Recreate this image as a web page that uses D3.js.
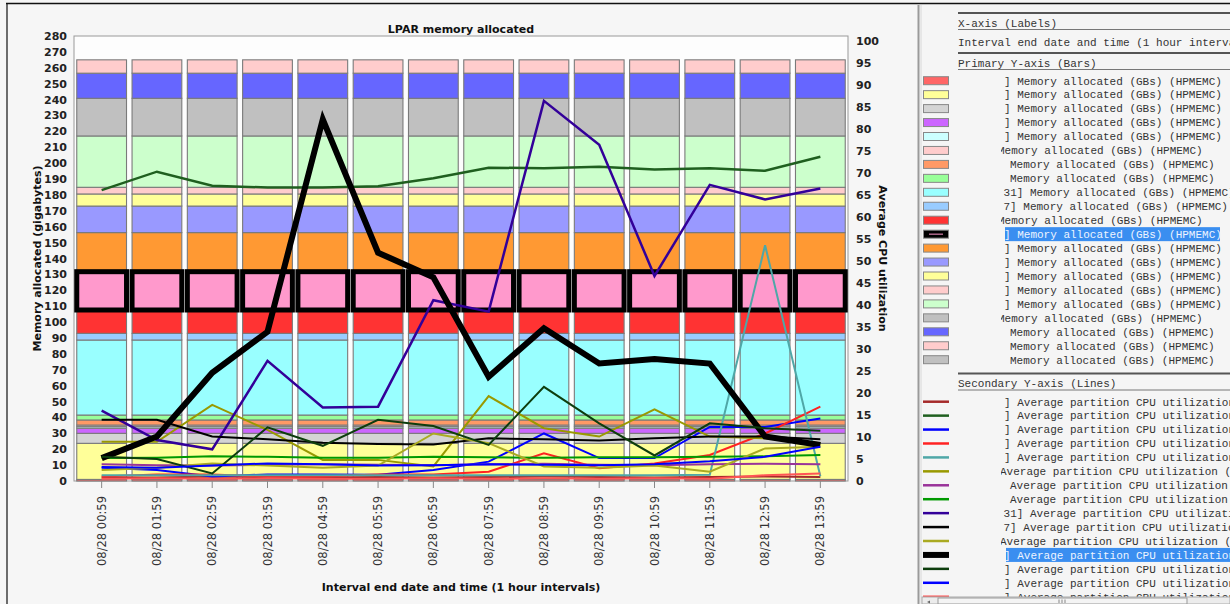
<!DOCTYPE html>
<html>
<head>
<meta charset="utf-8">
<script src="https://cdn.jsdelivr.net/npm/d3@7"></script>
<style>
body { margin: 0; background: #f6f6f6; }
svg { display: block; font-family: "DejaVu Sans", Verdana, sans-serif; }
.mono { font-family: "Liberation Mono", "Courier New", monospace; font-size: 11px; fill: #333; }
</style>
</head>
<body>
<svg id="chart" width="1230" height="604"></svg>
<script>
// x categories
const times = ["08/28 00:59", "08/28 01:59", "08/28 02:59", "08/28 03:59", "08/28 04:59",
    "08/28 05:59", "08/28 06:59", "08/28 07:59", "08/28 08:59", "08/28 09:59",
    "08/28 10:59", "08/28 11:59", "08/28 12:59", "08/28 13:59"]

// memory per LPAR (GB), same every hour, bottom of the stack first
const memValues = [1, 22.7, 6.3, 3.2, 1, 1, 3.2, 3.1, 47.2, 4.2, 14.7, 24.1, 24.6, 16.7, 7.6, 4.2, 32.3, 23.7, 15.8, 8.4, 0]
const memColors = ["#ff6666", "#ffff99", "#d4d4d4", "#cc66ff", "#ccffff", "#ffcccc", "#ff9966", "#99ff99",
    "#99ffff", "#99ccff", "#ff3333", "#ff99cc", "#ff9933", "#9999ff", "#ffff99", "#ffcccc",
    "#ccffcc", "#c0c0c0", "#6666ff", "#ffcccc", "#c0c0c0"]
const memLabels = [
    "] Memory allocated (GBs) (HPMEMC)", "] Memory allocated (GBs) (HPMEMC)", "] Memory allocated (GBs) (HPMEMC)",
    "] Memory allocated (GBs) (HPMEMC)", "] Memory allocated (GBs) (HPMEMC)", "Memory allocated (GBs) (HPMEMC)",
    "Memory allocated (GBs) (HPMEMC)", "Memory allocated (GBs) (HPMEMC)", "31] Memory allocated (GBs) (HPMEMC)",
    "7] Memory allocated (GBs) (HPMEMC)", "Memory allocated (GBs) (HPMEMC)", "] Memory allocated (GBs) (HPMEMC)",
    "] Memory allocated (GBs) (HPMEMC)", "] Memory allocated (GBs) (HPMEMC)", "] Memory allocated (GBs) (HPMEMC)",
    "] Memory allocated (GBs) (HPMEMC)", "] Memory allocated (GBs) (HPMEMC)", "Memory allocated (GBs) (HPMEMC)",
    "Memory allocated (GBs) (HPMEMC)", "Memory allocated (GBs) (HPMEMC)", "Memory allocated (GBs) (HPMEMC)"]

// average partition CPU utilization (%), one array per LPAR
const cpu01 = [0.8, 0.8, 1.0, 0.9, 0.8, 0.9, 0.8, 0.9, 1.0, 0.9, 0.8, 0.9, 1.0, 0.9]
const cpu02 = [66.1, 70.3, 67.1, 66.7, 66.7, 67.0, 68.8, 71.2, 71.1, 71.4, 70.8, 71.1, 70.5, 73.7]
const cpu03 = [3.0, 2.5, 1.0, 1.5, 1.5, 1.4, 2.5, 4.4, 10.8, 5.2, 5.2, 12.3, 12.3, 14.2]
const cpu04 = [1.0, 1.5, 1.5, 1.0, 1.0, 1.5, 1.5, 2.1, 6.3, 2.9, 4.0, 5.9, 10.8, 16.9]
const cpu05 = [1.3, 1.3, 1.3, 1.3, 1.3, 1.3, 1.3, 1.3, 1.3, 1.3, 1.3, 1.4, 53.6, 1.1]
const cpu06 = [8.9, 8.9, 17.3, 11.6, 4.8, 4.8, 3.3, 19.3, 12.0, 10.1, 16.3, 10.1, 9.7, 8.6]
const cpu07 = [3.8, 3.6, 3.5, 3.7, 3.8, 3.7, 3.6, 3.8, 3.9, 3.7, 3.6, 3.8, 3.9, 3.8]
const cpu08 = [5.2, 5.3, 5.6, 5.5, 5.3, 5.3, 5.5, 5.4, 5.3, 5.4, 5.4, 5.5, 5.6, 5.9]
const cpu09 = [16.0, 9.3, 7.2, 27.3, 16.7, 16.9, 41.1, 38.5, 86.4, 76.4, 46.6, 67.3, 64.0, 66.5]
const cpu10 = [13.9, 13.9, 10.1, 9.5, 8.7, 8.4, 8.3, 9.7, 9.5, 9.2, 9.7, 10.1, 10.1, 9.5]
const cpu11 = [2.5, 3.0, 4.0, 3.5, 3.0, 3.5, 10.8, 8.6, 3.3, 3.0, 3.5, 2.1, 7.4, 7.8]
const cpu12 = [5.2, 10.1, 24.6, 33.9, 82.2, 51.9, 46.3, 23.7, 34.7, 26.7, 27.7, 26.7, 10.1, 8.2]
const cpu13 = [5.5, 5.0, 1.7, 12.2, 8.0, 13.9, 12.5, 8.2, 21.4, 13.1, 5.8, 13.1, 12.0, 11.4]
const cpu14 = [3.2, 3.0, 3.5, 4.0, 3.8, 3.5, 3.6, 3.8, 3.7, 3.6, 3.8, 4.5, 5.5, 7.8]
const cpu15 = [0.5, 0.6, 0.5, 0.6, 0.5, 0.5, 0.6, 0.5, 0.6, 0.5, 0.6, 0.5, 1.3, 1.7]
const cpuColors = ["#a52a2a", "#1f5f1f", "#0000ff", "#ff2222", "#4fa7a7", "#999900", "#993399", "#009900",
    "#330099", "#000000", "#aaaa22", "#000000", "#0d3d0d", "#0000ff", "#ff5555"]
const cpuLabels = [
    "] Average partition CPU utilization (AVGCPU)", "] Average partition CPU utilization (AVGCPU)",
    "] Average partition CPU utilization (AVGCPU)", "] Average partition CPU utilization (AVGCPU)",
    "] Average partition CPU utilization (AVGCPU)", "Average partition CPU utilization (AVGCPU)",
    "Average partition CPU utilization (AVGCPU)", "Average partition CPU utilization (AVGCPU)",
    "31] Average partition CPU utilization (AVGCPU)", "7] Average partition CPU utilization (AVGCPU)",
    "Average partition CPU utilization (AVGCPU)", "] Average partition CPU utilization (AVGCPU)",
    "] Average partition CPU utilization (AVGCPU)", "] Average partition CPU utilization (AVGCPU)",
    "] Average partition CPU utilization (AVGCPU)"]

const cpuLines = [cpu01, cpu02, cpu03, cpu04, cpu05, cpu06, cpu07, cpu08, cpu09, cpu10, cpu11, cpu12, cpu13, cpu14, cpu15]
const selected = 11  // highlighted LPAR in the legend

let drawChart = () => {
    var width = 1230
    var height = 604
    var plot = { left: 74, right: 848, top: 36, bottom: 481 }

    var svg = d3.select("#chart")

    svg.append("rect").attr("width", width).attr("height", height).attr("fill", "#f6f6f6")
    // window frame
    svg.append("line").attr("x1", 6).attr("x2", width).attr("y1", 3.5).attr("y2", 3.5)
        .attr("stroke", "#111").attr("stroke-width", 1.5)
    svg.append("line").attr("x1", 7).attr("x2", 7).attr("y1", 3).attr("y2", height)
        .attr("stroke", "#111").attr("stroke-width", 1.2)

    var x = d3.scaleBand().domain(times).range([plot.left, plot.right]).paddingInner(0.1).paddingOuter(0.05)
    var yMem = d3.scaleLinear().domain([0, 280]).range([plot.bottom, plot.top])
    var yCpu = d3.scaleLinear().domain([0, 100]).range([plot.bottom, 41])

    svg.append("rect")
        .attr("x", plot.left).attr("y", plot.top)
        .attr("width", plot.right - plot.left).attr("height", plot.bottom - plot.top)
        .attr("fill", "#fdfdfd").attr("stroke", "#999")

    // stacked bars
    var table = times.map((t) => {
        var row = { time: t }
        memValues.forEach((v, i) => { row[i] = v })
        return row
    })
    var stacked = d3.stack().keys(d3.range(memValues.length))(table)

    var order = stacked.filter((s) => s.key !== selected).concat(stacked.filter((s) => s.key === selected))
    order.forEach((layer) => {
        if (memValues[layer.key] <= 0) return
        var hi = layer.key === selected
        svg.append("g")
            .selectAll("rect")
            .data(layer)
            .enter()
            .append("rect")
            .attr("x", (d) => x(d.data.time))
            .attr("width", x.bandwidth())
            .attr("y", (d) => yMem(d[1]))
            .attr("height", (d) => yMem(d[0]) - yMem(d[1]))
            .attr("fill", memColors[layer.key])
            .attr("stroke", hi ? "#000" : "#7a7a7a")
            .attr("stroke-width", hi ? 5 : 1.1)
    })

    // lines
    var line = d3.line()
        .x((d, i) => x(times[i]) + x.bandwidth() / 2)
        .y((d) => yCpu(d))
    cpuLines.forEach((vals, j) => {
        svg.append("path")
            .attr("d", line(vals))
            .attr("fill", "none")
            .attr("stroke", cpuColors[j])
            .attr("stroke-width", j === selected ? 6 : (j === 8 || j === 1 ? 2.5 : 2))
    })

    // axes
    var axisFont = (g) => g.selectAll("text").attr("font-size", 11).attr("font-weight", "bold").attr("fill", "#222")

    var left = svg.append("g").attr("transform", `translate(${plot.left},0)`)
        .call(d3.axisLeft(yMem).tickValues(d3.range(0, 281, 10)).tickSize(0).tickPadding(7))
    left.select(".domain").remove()
    left.call(axisFont).selectAll("text").attr("font-family", "DejaVu Sans")

    var right = svg.append("g").attr("transform", `translate(${plot.right},0)`)
        .call(d3.axisRight(yCpu).tickValues(d3.range(0, 101, 5)).tickSize(0).tickPadding(8))
    right.select(".domain").remove()
    right.call(axisFont).selectAll("text").attr("font-family", "DejaVu Sans")

    var bottom = svg.append("g").attr("transform", `translate(0,${plot.bottom})`)
        .call(d3.axisBottom(x).tickSize(7))
    bottom.select(".domain").remove()
    bottom.selectAll("line").attr("stroke", "#888")
    bottom.selectAll("text")
        .attr("font-family", "DejaVu Sans")
        .attr("font-size", 11.5)
        .attr("fill", "#333")
        .attr("transform", "rotate(-90)")
        .attr("x", -15).attr("y", 0).attr("dy", "0.35em")
        .style("text-anchor", "end")

    // titles
    svg.append("text").attr("x", (plot.left + plot.right) / 2).attr("y", 32.5)
        .attr("text-anchor", "middle").attr("font-size", 11).attr("font-weight", "bold").attr("fill", "#111")
        .text("LPAR memory allocated")
    svg.append("text").attr("x", (plot.left + plot.right) / 2).attr("y", 591)
        .attr("text-anchor", "middle").attr("font-size", 11).attr("font-weight", "bold").attr("fill", "#111")
        .text("Interval end date and time (1 hour intervals)")
    svg.append("text").attr("transform", `translate(41,${(plot.top + plot.bottom) / 2}) rotate(-90)`)
        .attr("text-anchor", "middle").attr("font-size", 11).attr("font-weight", "bold").attr("fill", "#111")
        .text("Memory allocated (gigabytes)")
    svg.append("text").attr("transform", `translate(879,${(plot.top + plot.bottom) / 2}) rotate(90)`)
        .attr("text-anchor", "middle").attr("font-size", 11).attr("font-weight", "bold").attr("fill", "#111")
        .text("Average CPU utilization")

    drawLegend(svg)
}

let drawLegend = (svg) => {
    var panel = svg.append("g")
    panel.append("rect").attr("x", 918).attr("y", 5).attr("width", 312).attr("height", 599).attr("fill", "#f5f5f5")
    panel.append("line").attr("x1", 918.5).attr("x2", 918.5).attr("y1", 5).attr("y2", 604).attr("stroke", "#9a9a9a").attr("stroke-width", 2)
    panel.append("line").attr("x1", 921).attr("x2", 921).attr("y1", 5).attr("y2", 604).attr("stroke", "#d8d8d8")

    var rule = (y, w, c) => panel.append("line").attr("x1", 958).attr("x2", 1230).attr("y1", y).attr("y2", y)
        .attr("stroke", c).attr("stroke-width", w)
    var head = (y, t) => panel.append("text").attr("class", "mono").attr("x", 958).attr("y", y).text(t)

    rule(13, 2, "#555")
    head(27, "X-axis (Labels)")
    rule(29.5, 1, "#777")
    head(45.5, "Interval end date and time (1 hour intervals)")
    rule(53, 2, "#555")
    head(66.5, "Primary Y-axis (Bars)")
    rule(69.5, 1, "#777")
    rule(373.5, 2, "#555")
    head(386.5, "Secondary Y-axis (Lines)")
    rule(390, 1, "#777")

    svg.append("clipPath").attr("id", "legclip")
        .append("rect").attr("x", 1001).attr("y", 70).attr("width", 229).attr("height", 527)

    var memX = [1004, 1004, 1004, 1004, 1004, 998, 1010, 1010, 1003.6, 1003.5, 998,
        1004, 1004, 1004, 1004, 1004, 1004, 998, 1010, 1010, 1010]
    var cpuX = [1004, 1004, 1004, 1004, 1004, 1000, 1010, 1010, 1003.6, 1003.5, 1000, 1004, 1004, 1004, 1004]

    var memRowY = (i) => 80.7 + i * 13.95
    var cpuRowY = (i) => 401.7 + i * 13.93

    var texts = panel.append("g").attr("clip-path", "url(#legclip)")

    memLabels.forEach((t, i) => {
        var cy = memRowY(i)
        var hi = i === selected
        panel.append("rect").attr("x", 923.5).attr("y", cy - 4).attr("width", 25).attr("height", 8)
            .attr("fill", hi ? "#000" : memColors[i]).attr("stroke", "#888")
        if (hi) {
            panel.append("line").attr("x1", 929).attr("x2", 943).attr("y1", cy).attr("y2", cy)
                .attr("stroke", memColors[i]).attr("stroke-width", 1)
            texts.append("rect").attr("x", 1005).attr("y", cy - 7).attr("width", 215).attr("height", 14).attr("fill", "#3a8ef0")
        }
        texts.append("text").attr("class", "mono").attr("x", memX[i]).attr("y", cy + 3.8)
            .style("fill", hi ? "#eef4ff" : null).text(t)
    })

    cpuLabels.forEach((t, i) => {
        var cy = cpuRowY(i)
        var hi = i === selected
        panel.append("line").attr("x1", 923).attr("x2", 949).attr("y1", cy).attr("y2", cy)
            .attr("stroke", cpuColors[i]).attr("stroke-width", hi ? 6 : 2.5)
        if (hi) {
            texts.append("rect").attr("x", 1006).attr("y", cy - 7).attr("width", 224).attr("height", 14).attr("fill", "#3a8ef0")
        }
        texts.append("text").attr("class", "mono").attr("x", cpuX[i]).attr("y", cy + 3.8)
            .style("fill", hi ? "#eef4ff" : null).text(t)
    })

    // horizontal scrollbar
    panel.append("rect").attr("x", 922).attr("y", 597).attr("width", 308).attr("height", 7)
        .attr("fill", "#ececec").attr("stroke", "#aaa")
    panel.append("rect").attr("x", 938).attr("y", 598).attr("width", 249).attr("height", 6)
        .attr("fill", "#f4f4f4").attr("stroke", "#999")
    panel.append("path").attr("d", "M930,600.5 L927,602 L930,603.5 Z").attr("fill", "#666")
    ;[1059, 1062, 1065].forEach((gx) => {
        panel.append("line").attr("x1", gx).attr("x2", gx).attr("y1", 599.5).attr("y2", 603).attr("stroke", "#888")
    })
}

document.addEventListener("DOMContentLoaded", () => {
    drawChart()
})
</script>
</body>
</html>
